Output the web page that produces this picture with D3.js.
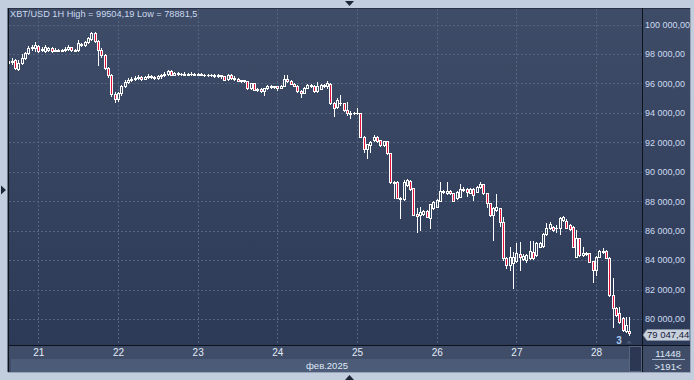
<!DOCTYPE html>
<html>
<head>
<meta charset="utf-8">
<script src="https://cdn.jsdelivr.net/npm/d3@7"></script>
<style>
  html, body { margin: 0; padding: 0; background: #c2cddd; }
  svg { display: block; font-family: "Liberation Sans", Arial, sans-serif; }
</style>
</head>
<body>
<svg id="chart" width="694" height="380"></svg>
<script>
// XBT/USD, 1H candles, 20 feb 15:00 -> 28 feb 10:00 (2025)
var startTime = Date.UTC(2025, 1, 20, 15);

var opens = [
  97390, 97520, 97590, 96980, 97390, 97730, 98070, 98400, 98400, 98540,
  98270, 98200, 98270, 98400, 98230, 98270, 98230, 98270, 98340, 98440,
  98270, 98270, 98680, 98610, 98810, 99020, 99420, 98880, 98270, 97930,
  97050, 96570, 95280, 94910, 95350, 95820, 96100, 96230, 96300, 96370,
  96440, 96330, 96440, 96500, 96440, 96370, 96470, 96570, 96640, 96810,
  96600, 96710, 96640, 96670, 96600, 96670, 96640, 96600, 96670, 96600,
  96540, 96600, 96570, 96500, 96540, 96470, 96300, 96570, 96400, 96330,
  96160, 96200, 96130, 95690, 96030, 95550, 95620, 95480, 95690, 95820,
  95760, 95790, 95720, 95820, 96270, 96130, 95990, 95820, 95450, 95380,
  95720, 95890, 95820, 95450, 95650, 95890, 95790, 95960, 94670, 94400,
  94640, 94670, 94190, 93890, 94020, 93960, 93990, 92380, 91550, 91820,
  92160, 92380, 92160, 91820, 92090, 91250, 89220, 89330, 88240, 88150,
  89100, 89370, 88880, 87110, 87060, 87110, 87340, 86880, 87520, 87630,
  88010, 88690, 88540, 88690, 88540, 88200, 88310, 88760, 88860, 88590,
  88860, 88650, 88950, 89170, 88540, 87860, 87060, 87400, 87520, 86590,
  84120, 83670, 83780, 83940, 84390, 84080, 84010, 84120, 84570, 84350,
  84910, 84980, 85750, 86160, 86270, 86180, 86160, 86720, 86660, 86380,
  86270, 84230, 85480, 84350, 84460, 84460, 83940, 83330, 84230, 84620,
  84620, 84160, 81630, 80730, 80410, 80070, 79190, 79210
];
var highs = [
  97660, 97730, 97660, 97590, 98000, 98130, 98540, 98610, 98810, 98610,
  98470, 98610, 98470, 98470, 98400, 98340, 98340, 98470, 98610, 98470,
  98340, 98950, 98740, 98880, 99150, 99504.19, 99460, 98950, 98400, 98000,
  97110, 96640, 95420, 95420, 95890, 96230, 96370, 96440, 96500, 96570,
  96500, 96500, 96640, 96570, 96500, 96570, 96640, 96770, 96910, 96880,
  96770, 96770, 96740, 96770, 96740, 96770, 96710, 96740, 96710, 96670,
  96640, 96670, 96640, 96640, 96600, 96500, 96640, 96640, 96470, 96370,
  96230, 96230, 96160, 96060, 96060, 95690, 95690, 95720, 95890, 95860,
  95820, 95820, 95890, 96570, 96570, 96230, 96030, 95860, 95550, 95760,
  95930, 95930, 95890, 96120, 95960, 95960, 96160, 96030, 94740, 94990,
  95210, 94700, 94760, 94130, 94060, 94310, 94020, 92430, 91890, 92090,
  92500, 92430, 92190, 92120, 92120, 91270, 89370, 89370, 88290, 89440,
  89510, 89410, 88900, 87540, 87630, 87370, 87370, 87810, 88010, 88120,
  89330, 88760, 89330, 88730, 88560, 88690, 89150, 88970, 88900, 88900,
  88900, 89030, 89330, 89200, 88560, 87880, 87630, 88470, 87570, 86930,
  84210, 84910, 84570, 85140, 85250, 84420, 84420, 85300, 85300, 85250,
  85230, 85810, 86540, 86610, 86320, 86380, 86930, 87020, 86790, 86450,
  86320, 86050, 85500, 84910, 84520, 84480, 83970, 84280, 84690, 84840,
  84690, 84210, 82770, 80840, 80840, 80140, 80140, 80120
];
var lows = [
  97320, 97320, 96980, 96910, 97320, 97660, 98000, 98270, 98200, 98130,
  98200, 98130, 98200, 98130, 98200, 98200, 98170, 98200, 98270, 98230,
  98200, 98200, 98540, 98540, 98740, 98950, 98810, 97250, 97790, 96980,
  96430, 95150, 94760, 94800, 95210, 95760, 96030, 96160, 96230, 96300,
  96260, 96300, 96370, 96370, 96300, 96300, 96400, 96500, 96570, 96540,
  96540, 96570, 96570, 96540, 96540, 96570, 96540, 96540, 96540, 96500,
  96470, 96500, 96440, 96440, 96400, 96230, 96230, 96330, 96260, 96130,
  96100, 96100, 95650, 95620, 95520, 95480, 95420, 95210, 95620, 95720,
  95720, 95550, 95690, 95790, 96100, 95960, 95790, 95420, 95110, 95350,
  95690, 95760, 95420, 95420, 95590, 95760, 95690, 94600, 93810, 94330,
  94530, 94130, 93850, 93670, 93890, 93920, 92360, 91360, 90910, 91310,
  92090, 92050, 91780, 91780, 91210, 89240, 88200, 88220, 86840, 88110,
  89030, 88790, 87030, 85930, 86050, 87060, 86930, 86160, 87470, 87610,
  87980, 88560, 88490, 88490, 87980, 88150, 88290, 88690, 88350, 88560,
  88080, 88620, 88900, 88490, 87630, 87000, 85370, 87340, 86320, 84010,
  83440, 83330, 82090, 83870, 83330, 84010, 83870, 84080, 84080, 84280,
  84860, 84920, 85700, 86110, 85980, 85890, 85750, 86660, 86180, 86050,
  84860, 84180, 84280, 84280, 84350, 83870, 82530, 82990, 84180, 84480,
  84110, 81560, 79480, 80200, 79760, 79190, 79120, 78881.5
];
var closes = [
  97520, 97450, 97050, 97390, 97730, 98070, 98400, 98470, 98610, 98200,
  98340, 98470, 98400, 98200, 98300, 98230, 98270, 98370, 98470, 98270,
  98230, 98710, 98610, 98810, 99080, 99420, 98880, 98270, 97930, 97050,
  96570, 95280, 94910, 95350, 95820, 96100, 96230, 96300, 96370, 96440,
  96330, 96440, 96500, 96440, 96370, 96470, 96570, 96640, 96810, 96600,
  96710, 96640, 96670, 96600, 96670, 96640, 96600, 96670, 96600, 96540,
  96600, 96570, 96500, 96570, 96470, 96260, 96570, 96400, 96330, 96160,
  96200, 96130, 95690, 96030, 95550, 95620, 95480, 95690, 95820, 95760,
  95790, 95720, 95820, 96270, 96130, 95990, 95820, 95450, 95380, 95720,
  95890, 95820, 95450, 95790, 95890, 95790, 96030, 94670, 94330, 94870,
  94670, 94160, 93960, 94020, 93960, 93990, 92380, 91550, 91870, 92040,
  92380, 92090, 91820, 92090, 91250, 89280, 89330, 88240, 88150, 89330,
  89440, 88830, 87060, 87020, 87290, 87340, 86950, 87790, 87970, 88080,
  88690, 88610, 88690, 88540, 88010, 88650, 88830, 88860, 88630, 88860,
  88420, 88990, 89170, 88540, 87860, 87060, 87520, 87630, 86590, 84120,
  83670, 84230, 84230, 84460, 84230, 84300, 84350, 84620, 84120, 85140,
  85140, 85750, 86160, 86430, 86050, 86150, 86880, 86950, 86200, 86110,
  84910, 85480, 84350, 84460, 84420, 83890, 83330, 84230, 84620, 84530,
  84160, 81630, 80730, 80270, 79820, 79250, 79590, 79047.44
];

var priceTicks = [80000, 82000, 84000, 86000, 88000, 90000, 92000, 94000, 96000, 98000, 100000];
var titleText = "XBT/USD 1H High = 99504,19 Low = 78881,5";
var monthLabel = "фев.2025";
var volumeText = "11448";
var barsText = ">191<";
var shiftText = "3";

// layout (plotTop, not "top": window.top is read-only)
var W = 694, H = 380;
var plotLeft = 9, plotRight = 642, panelRight = 690, plotTop = 9, plotBottom = 345;
var axisBand = 359, bottomEdge = 372;

var svg = d3.select("#chart");

var candles = opens.map(function(o, i) {
  return { t: new Date(startTime + i * 3600e3), o: o, h: highs[i], l: lows[i], c: closes[i] };
});

var x = d3.scaleUtc()
  .domain([candles[0].t, candles[candles.length - 1].t])
  .range([8.4, 629.3]);
var y = d3.scaleLinear().domain([80000, 100000]).range([319, 24.5]);

var ru = d3.formatLocale({ decimal: ",", thousands: "\u00a0", grouping: [3], currency: ["", ""] });
var priceFmt = ru.format(",.2f");

// background gradient
var defs = svg.append("defs");
var grad = defs.append("linearGradient").attr("id", "bg").attr("x1", 0).attr("y1", 0).attr("x2", 0).attr("y2", 1);
grad.append("stop").attr("offset", "0%").attr("stop-color", "#3e4c68");
grad.append("stop").attr("offset", "100%").attr("stop-color", "#2d3a57");
defs.append("clipPath").attr("id", "plotclip")
  .append("rect").attr("x", plotLeft).attr("y", plotTop).attr("width", plotRight - plotLeft).attr("height", plotBottom - plotTop);

svg.append("rect").attr("width", W).attr("height", H).attr("fill", "#c2cddd");
svg.append("rect").attr("x", plotLeft).attr("y", plotTop).attr("width", panelRight - plotLeft).attr("height", plotBottom - plotTop)
  .attr("fill", "url(#bg)");

// bottom bands
svg.append("rect").attr("x", plotLeft).attr("y", plotBottom).attr("width", panelRight - plotLeft).attr("height", bottomEdge - plotBottom)
  .attr("fill", "#3f4d69");
svg.append("rect").attr("x", 11).attr("y", axisBand).attr("width", plotRight - 11).attr("height", bottomEdge - axisBand)
  .attr("fill", "#4c5b78");

// grid
var days = d3.utcDay.range(x.domain()[0], x.domain()[1]);
var grid = svg.append("g").attr("shape-rendering", "crispEdges")
  .attr("stroke", "#56657f").attr("stroke-dasharray", "2,2");
grid.selectAll("line.h").data(priceTicks).enter().append("line")
  .attr("x1", plotLeft).attr("x2", plotRight)
  .attr("y1", function(d) { return Math.round(y(d)) + 0.5; })
  .attr("y2", function(d) { return Math.round(y(d)) + 0.5; });
grid.selectAll("line.v").data(days).enter().append("line")
  .attr("y1", plotTop).attr("y2", plotBottom)
  .attr("x1", function(d) { return Math.round(x(d)) + 0.5; })
  .attr("x2", function(d) { return Math.round(x(d)) + 0.5; });

// candles
var cg = svg.append("g").attr("clip-path", "url(#plotclip)").attr("shape-rendering", "crispEdges");
candles.forEach(function(d) {
  var cx = Math.round(x(d.t));
  var yt = Math.round(y(Math.max(d.o, d.c)));
  var yb = Math.round(y(Math.min(d.o, d.c)));
  var yh = Math.round(y(d.h)), yl = Math.round(y(d.l));
  var down = d.c < d.o;
  if (yh < yt) cg.append("line").attr("x1", cx + 0.5).attr("x2", cx + 0.5).attr("y1", yh).attr("y2", yt).attr("stroke", "#fff");
  if (yl > yb) cg.append("line").attr("x1", cx + 0.5).attr("x2", cx + 0.5).attr("y1", yb).attr("y2", yl + 1).attr("stroke", "#fff");
  if (yb - yt < 2) {
    cg.append("rect").attr("x", cx - 1).attr("y", yt).attr("width", 3).attr("height", Math.max(1, yb - yt + 1))
      .attr("fill", "#fff");
  } else {
    cg.append("rect").attr("x", cx - 0.5).attr("y", yt + 0.5).attr("width", 2).attr("height", yb - yt)
      .attr("fill", down ? "#e3123d" : "none").attr("stroke", "#fff");
  }
});

// frame lines
var frame = svg.append("g").attr("shape-rendering", "crispEdges");
frame.append("line").attr("x1", 8).attr("x2", panelRight).attr("y1", 8.5).attr("y2", 8.5).attr("stroke", "#2a3245");
frame.append("line").attr("x1", 8.5).attr("x2", 8.5).attr("y1", 8).attr("y2", bottomEdge).attr("stroke", "#0e121b");
frame.append("line").attr("x1", 7.5).attr("x2", 7.5).attr("y1", 8).attr("y2", bottomEdge).attr("stroke", "#6d788a");
frame.append("line").attr("x1", 8).attr("x2", panelRight).attr("y1", plotBottom + 0.5).attr("y2", plotBottom + 0.5).attr("stroke", "#0e121b");
frame.append("line").attr("x1", plotRight + 0.5).attr("x2", plotRight + 0.5).attr("y1", 8).attr("y2", bottomEdge).attr("stroke", "#0e121b");
frame.append("line").attr("x1", panelRight + 0.5).attr("x2", panelRight + 0.5).attr("y1", 8).attr("y2", bottomEdge + 1).attr("stroke", "#97a3b6");
frame.append("line").attr("x1", 8).attr("x2", panelRight + 1).attr("y1", bottomEdge + 0.5).attr("y2", bottomEdge + 0.5).attr("stroke", "#97a3b6");

// price axis
var yAxis = d3.axisRight(y).tickValues(priceTicks).tickFormat(priceFmt).tickSize(0).tickPadding(3);
var ya = svg.append("g").attr("transform", "translate(" + plotRight + ",0)").call(yAxis);
ya.select(".domain").remove();
ya.selectAll("text").attr("fill", "#cddbf0").style("font-size", "9px").style("font-family", "\"Liberation Sans\", Arial, sans-serif");

// time axis
var xAxis = d3.axisBottom(x).tickValues(days).tickFormat(d3.utcFormat("%-d")).tickSize(0).tickPadding(4);
var xa = svg.append("g").attr("transform", "translate(0," + plotBottom + ")").call(xAxis);
xa.select(".domain").remove();
xa.selectAll("text").attr("fill", "#e3ebf7").style("font-size", "10px").style("font-family", "\"Liberation Sans\", Arial, sans-serif");

svg.append("text").attr("x", 327).attr("y", 369).attr("text-anchor", "middle")
  .attr("fill", "#dfe8f5").style("font-size", "9.5px").text(monthLabel);

// title
svg.append("text").attr("x", 10).attr("y", 17).attr("fill", "#cbd9ee").style("font-size", "9.2px").text(titleText);

// last price marker
var lastY = y(closes[closes.length - 1]) + 2;
svg.append("path")
  .attr("d", "M" + (plotRight + 1) + "," + lastY + "L" + (plotRight + 5) + "," + (lastY - 5.5) +
    "L" + (panelRight - 0.5) + "," + (lastY - 5.5) + "L" + (panelRight - 0.5) + "," + (lastY + 5.5) +
    "L" + (plotRight + 5) + "," + (lastY + 5.5) + "Z")
  .attr("fill", "#c8d0dc").attr("stroke", "#8c99ad").attr("stroke-width", 0.5);
svg.append("text").attr("x", plotRight + 5).attr("y", lastY + 3.3).attr("fill", "#16203a")
  .style("font-size", "9.5px").text(priceFmt(closes[closes.length - 1]));

svg.append("text").attr("x", 619).attr("y", 344).attr("text-anchor", "middle")
  .attr("fill", "#a9c9f2").style("font-size", "10px").style("font-weight", "bold").text(shiftText);
svg.append("path").attr("d", "M626,343.5L632,343.5L629,340.5Z").attr("fill", "#4b5873");

// scroll thumb
svg.append("rect").attr("x", 629.5).attr("y", 346.5).attr("width", 12).attr("height", 25)
  .attr("fill", "#2c3853").attr("stroke", "#56667f").attr("shape-rendering", "crispEdges");

// right bottom info
svg.append("text").attr("x", 668).attr("y", 356.5).attr("text-anchor", "middle")
  .attr("fill", "#dfe8f5").style("font-size", "9.5px").text(volumeText);
svg.append("line").attr("x1", 652).attr("x2", 685).attr("y1", 359.5).attr("y2", 359.5)
  .attr("stroke", "#9fb0c8").attr("shape-rendering", "crispEdges");
svg.append("text").attr("x", 668).attr("y", 370).attr("text-anchor", "middle")
  .attr("fill", "#dfe8f5").style("font-size", "9.5px").text(barsText);

// window markers
var midX = (plotLeft + panelRight) / 2, midY = (8 + bottomEdge) / 2;
svg.append("path").attr("d", "M" + (midX - 4.5) + ",1L" + (midX + 4.5) + ",1L" + midX + ",6Z").attr("fill", "#1d2536");
svg.append("path").attr("d", "M1," + (midY - 4.5) + "L1," + (midY + 4.5) + "L6," + midY + "Z").attr("fill", "#1d2536");
svg.append("path").attr("d", "M" + (midX - 4.5) + ",380L" + (midX + 4.5) + ",380L" + midX + ",375Z").attr("fill", "#1d2536");
</script>
</body>
</html>
